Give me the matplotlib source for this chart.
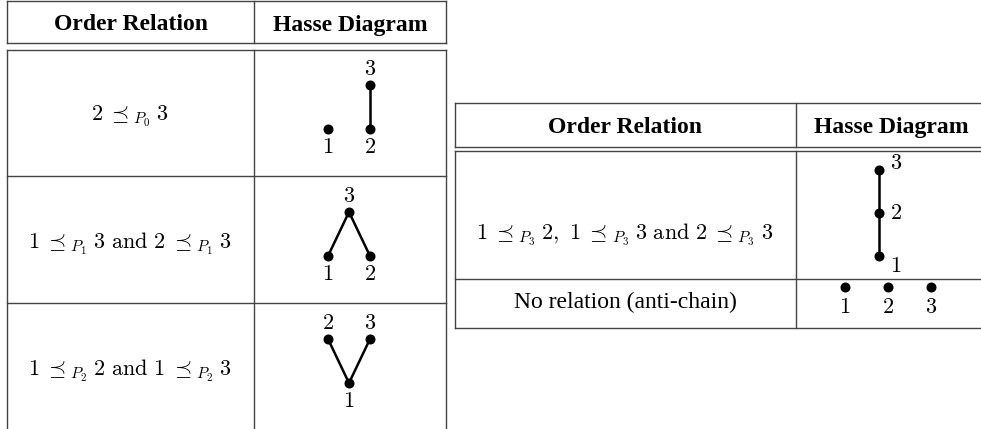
import matplotlib
matplotlib.use("Agg")
import matplotlib.pyplot as plt

plt.rcParams["mathtext.fontset"] = "cm"

# ---- data ----
headers = ["Order Relation", "Hasse Diagram"]

left_relations = [
    r"$2 \;\preceq_{P_0}\; 3$",
    r"$1 \;\preceq_{P_1}\; 3\ \mathrm{and}\ 2 \;\preceq_{P_1}\; 3$",
    r"$1 \;\preceq_{P_2}\; 2\ \mathrm{and}\ 1 \;\preceq_{P_2}\; 3$",
]
right_relations = [
    r"$1 \;\preceq_{P_3}\; 2,\ 1 \;\preceq_{P_3}\; 3\ \mathrm{and}\ 2 \;\preceq_{P_3}\; 3$",
    "No relation (anti-chain)",
]

# hasse layouts: element -> (column offset, level); edges as (lower, upper)
hasse_nodes = [
    {1: (-0.5, 0), 2: (0.5, 0), 3: (0.5, 1)},
    {1: (-0.5, 0), 2: (0.5, 0), 3: (0.0, 1)},
    {1: (0.0, 0), 2: (-0.5, 1), 3: (0.5, 1)},
    {1: (0.0, 0), 2: (0.0, 1), 3: (0.0, 2)},
    {1: (-1.0, 0), 2: (0.0, 0), 3: (1.0, 0)},
]
hasse_edges = [
    [(2, 3)],
    [(1, 3), (2, 3)],
    [(1, 2), (1, 3)],
    [(1, 2), (2, 3)],
    [],
]
label_side = ["vert", "vert", "vert", "right", "below"]

fig = plt.figure(figsize=(9.81, 4.29), dpi=100)
ax = fig.add_axes([0, 0, 1, 1])
ax.set_xlim(0, 981)
ax.set_ylim(429, 0)
ax.axis("off")

grid_c = "#444444"
lw_grid = 1.0
serif = ["Liberation Serif", "DejaVu Serif"]
fs_math = 16
fs_text = 17


def draw_table(x0, x1, x2, top, hb1, hb2, row_bounds, bottom_line):
    ax.plot([x0, x2], [top, top], color=grid_c, lw=lw_grid)
    ax.plot([x0, x2], [hb1, hb1], color=grid_c, lw=lw_grid)
    ax.plot([x0, x2], [hb2, hb2], color=grid_c, lw=lw_grid)
    for yb in row_bounds[1:-1]:
        ax.plot([x0, x2], [yb, yb], color=grid_c, lw=lw_grid)
    if bottom_line:
        ax.plot([x0, x2], [row_bounds[-1]] * 2, color=grid_c, lw=lw_grid)
    for x in (x0, x1, x2):
        ax.plot([x, x], [top, hb1], color=grid_c, lw=lw_grid)
        ax.plot([x, x], [hb2, row_bounds[-1]], color=grid_c, lw=lw_grid)
    hy = (top + hb1) / 2 + 3
    ax.text((x0 + x1) / 2, hy, headers[0], ha="center", va="center",
            fontsize=fs_text, fontweight="bold", family=serif)
    ax.text((x1 + x2) / 2, hy, headers[1], ha="center", va="center",
            fontsize=fs_text, fontweight="bold", family=serif)


def draw_hasse(idx, cx, cy, dx, dy):
    nodes = hasse_nodes[idx]
    levels = [v[1] for v in nodes.values()]
    mid = (max(levels) + min(levels)) / 2
    pos = {k: (cx + v[0] * dx, cy - (v[1] - mid) * dy) for k, v in nodes.items()}
    for a, b in hasse_edges[idx]:
        ax.plot([pos[a][0], pos[b][0]], [pos[a][1], pos[b][1]],
                color="black", lw=1.8, solid_capstyle="round")
    for k, (x, y) in pos.items():
        ax.plot(x, y, "o", color="black", ms=6.2)
        side = label_side[idx]
        if side == "right":
            off = {1: (17, 10), 2: (17, 0), 3: (17, -7)}[k]
            ax.text(x + off[0], y + off[1], f"${k}$", ha="center", va="center",
                    fontsize=fs_math)
        elif side == "below":
            ax.text(x, y + 20, f"${k}$", ha="center", va="center", fontsize=fs_math)
        else:
            lvl = nodes[k][1]
            top_level = lvl == max(levels)
            ax.text(x, y + (-16 if top_level else 18), f"${k}$",
                    ha="center", va="center", fontsize=fs_math)


# left table
L_rows = [49, 176, 303, 430]
draw_table(7, 254, 446, 1, 43, 49.5, L_rows, False)
for i, rel in enumerate(left_relations):
    cy = (L_rows[i] + L_rows[i + 1]) / 2
    ax.text(130, cy + 4, rel, ha="center", va="center", fontsize=fs_math)
    draw_hasse(i, 349, cy - 5.5, 42, 44)

# right table
R_rows = [151, 279, 328]
draw_table(455, 796, 986, 103, 146.5, 151, R_rows, True)
ax.text(625, 235, right_relations[0], ha="center", va="center", fontsize=fs_math)
draw_hasse(3, 879, 213, 0, 43)
ax.text(625, 302, right_relations[1], ha="center", va="center", fontsize=fs_text,
        family=serif)
draw_hasse(4, 888, 287, 43, 0)

fig.savefig("out.png", dpi=100)
